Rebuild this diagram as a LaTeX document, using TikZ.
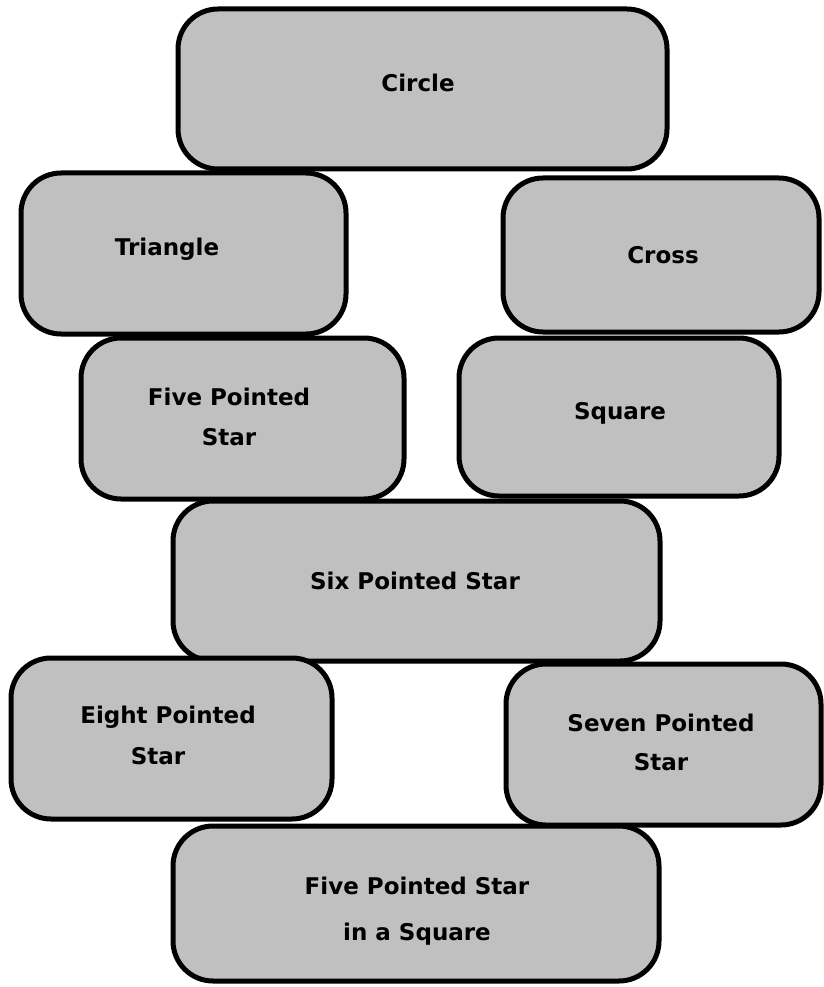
\documentclass[tikz,border=0pt]{standalone}
\usepackage{fontspec}
\setmainfont{DejaVu Sans}
\usepackage{tikz}
\usetikzlibrary{positioning}
\definecolor{boxgrey}{RGB}{192,192,192}

\begin{document}
\begin{tikzpicture}[x=1pt,y=-1pt,
  shapebox/.style={draw=black, fill=boxgrey, line width=5pt, rounded corners=40pt, rectangle, inner sep=0pt},
  shapetext/.style={font=\fontsize{23}{23}\selectfont\bfseries, align=center, inner sep=0pt}]
\useasboundingbox (0,0) rectangle (823,987);

%Shape: Rounded Rect [id:circle]
\node [shapebox, minimum width=489pt, minimum height=160pt] (circle) at (422.5,89) {};
%Shape: Rounded Rect [id:triangle]
\node [shapebox, minimum width=325pt, minimum height=161pt] (triangle) at (183.5,253.5) {};
%Shape: Rounded Rect [id:cross]
\node [shapebox, minimum width=316pt, minimum height=154pt] (cross) at (661,255) {};
%Shape: Rounded Rect [id:fivestar]
\node [shapebox, minimum width=323pt, minimum height=161pt] (fivestar) at (242.5,418.5) {};
%Shape: Rounded Rect [id:square]
\node [shapebox, minimum width=320pt, minimum height=158pt] (square) at (619,417) {};
%Shape: Rounded Rect [id:sixstar]
\node [shapebox, minimum width=487pt, minimum height=160pt] (sixstar) at (416.5,581) {};
%Shape: Rounded Rect [id:eightstar]
\node [shapebox, minimum width=321pt, minimum height=161pt] (eightstar) at (171.5,738.5) {};
%Shape: Rounded Rect [id:sevenstar]
\node [shapebox, minimum width=315pt, minimum height=161pt] (sevenstar) at (663.5,744.5) {};
%Shape: Rounded Rect [id:starsquare]
\node [shapebox, minimum width=486pt, minimum height=155pt] (starsquare) at (416,903.5) {};

% Text Node
\node [shapetext] (circletxt) at (418,83) {Circle};
% Text Node
\node [shapetext] (triangletxt) at (167,249) {Triangle};
% Text Node
\node [shapetext] (crosstxt) at (663,255) {Cross};
% Text Node
\node [shapetext] (fivestartxt) at (229,417) {Five Pointed\\[17pt]Star};
% Text Node
\node [shapetext] (squaretxt) at (620,413) {Square};
% Text Node
\node [shapetext] (sixstartxt) at (415,581) {Six Pointed Star};
% Text Node
\node [shapetext] (eightstartxt) at (168,735) {Eight Pointed\\[18pt]Star\hspace*{20pt}};
% Text Node
\node [shapetext] (sevenstartxt) at (661,742) {Seven Pointed\\[16pt]Star};
% Text Node
\node [shapetext] (starsquaretxt) at (417,911) {Five Pointed Star\\[23pt]in a Square};

\end{tikzpicture}
\end{document}
